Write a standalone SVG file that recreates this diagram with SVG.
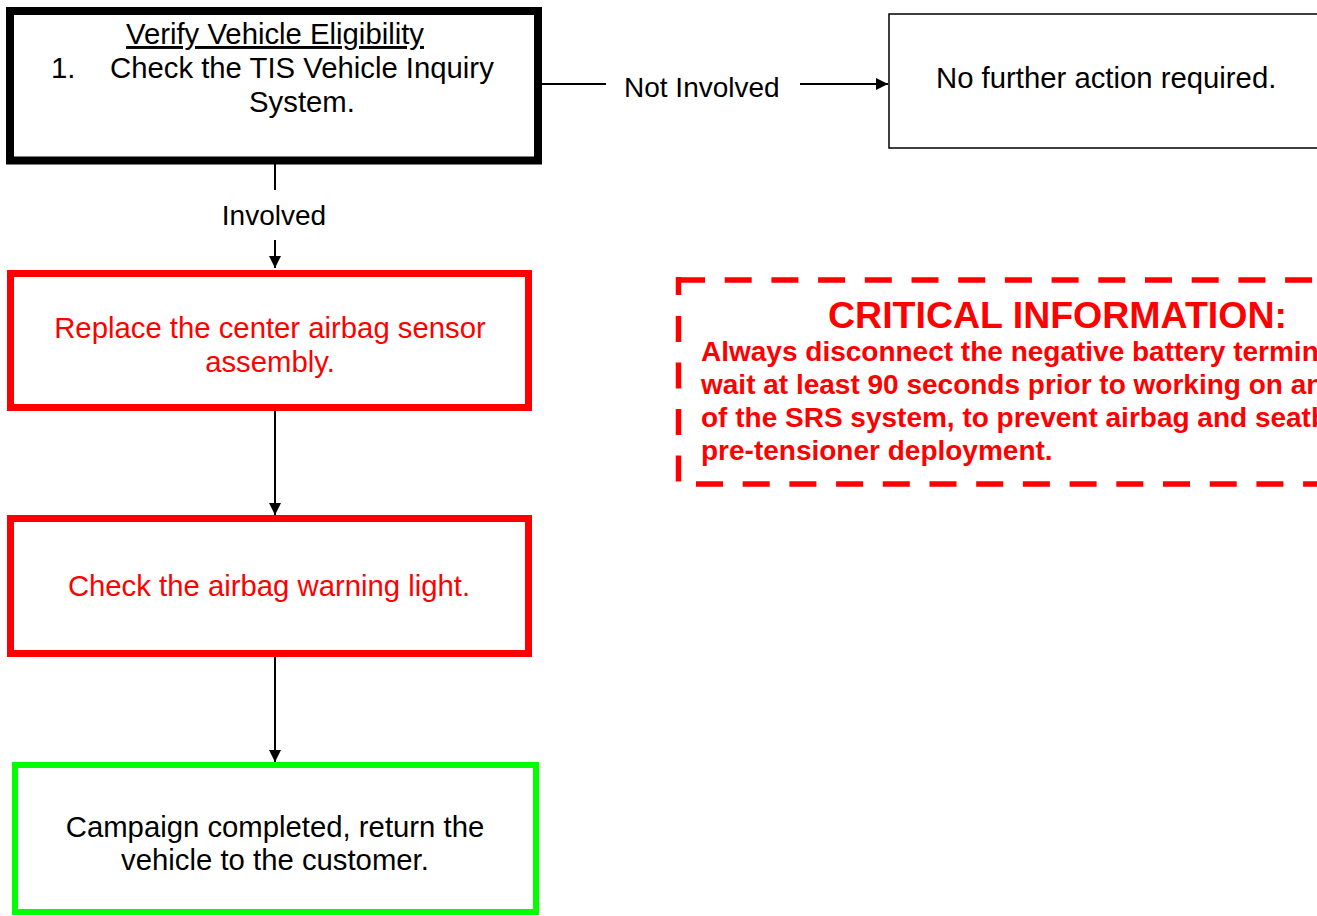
<svg xmlns="http://www.w3.org/2000/svg" width="1317" height="916" viewBox="0 0 1317 916">
<style>
text{font-family:"Liberation Sans",Arial,sans-serif;}
.t{font-size:29.3px;fill:#000;}
.l{font-size:28px;fill:#000;}
.r{font-size:29.3px;fill:#ff0000;}
.c{text-anchor:middle;}
.b{font-size:28px;font-weight:bold;fill:#ff0000;}
.h{font-size:37.5px;font-weight:bold;fill:#ff0000;}
.ln{stroke:#000;stroke-width:2;fill:none;}
.dash{stroke:#ff0000;stroke-width:5.5;fill:none;}
</style>
<defs>
<marker id="ah" markerWidth="14" markerHeight="14" refX="12" refY="6" orient="auto" markerUnits="userSpaceOnUse">
<path d="M0,0 L12,6 L0,12 Z" fill="#000"/>
</marker>
</defs>
<rect width="1317" height="916" fill="#fff"/>
<g id="connectors">
<line class="ln" x1="275" y1="164" x2="275" y2="190"/>
<line class="ln" x1="275" y1="240" x2="275" y2="268" marker-end="url(#ah)"/>
<line class="ln" x1="275" y1="411" x2="275" y2="515" marker-end="url(#ah)"/>
<line class="ln" x1="275" y1="657" x2="275" y2="762" marker-end="url(#ah)"/>
<line class="ln" x1="542" y1="84" x2="606" y2="84"/>
<line class="ln" x1="800" y1="84" x2="888" y2="84" marker-end="url(#ah)"/>
<text class="l c" x="274" y="225">Involved</text>
<text class="l" x="624" y="97">Not Involved</text>
</g>
<g id="verify">
<rect x="10" y="11" width="528" height="149.5" fill="#fff" stroke="#000" stroke-width="8"/>
<text class="t c" x="275" y="44" text-decoration="underline">Verify Vehicle Eligibility</text>
<text class="t" x="51" y="78">1.</text>
<text class="t" x="110" y="78">Check the TIS Vehicle Inquiry</text>
<text class="t c" x="302" y="112">System.</text>
</g>
<g id="no-action">
<rect x="889" y="14" width="440" height="134" fill="#fff" stroke="#000" stroke-width="1.5"/>
<text class="t" x="936" y="88">No further action required.</text>
</g>
<g id="replace">
<rect x="10.5" y="273.5" width="518" height="134" fill="#fff" stroke="#ff0000" stroke-width="7"/>
<text class="r c" x="270" y="338">Replace the center airbag sensor</text>
<text class="r c" x="270" y="372">assembly.</text>
</g>
<g id="check-light">
<rect x="10.5" y="518.5" width="518" height="135" fill="#fff" stroke="#ff0000" stroke-width="7"/>
<text class="r c" x="269" y="596">Check the airbag warning light.</text>
</g>
<g id="complete">
<rect x="15" y="765" width="521" height="147" fill="#fff" stroke="#00ff00" stroke-width="6"/>
<text class="t c" x="275" y="837">Campaign completed, return the</text>
<text class="t c" x="275" y="870">vehicle to the customer.</text>
</g>
<g id="critical">
<line class="dash" x1="678" y1="280" x2="1330" y2="280" stroke-dasharray="27 19.7"/>
<line class="dash" x1="696" y1="484" x2="1330" y2="484" stroke-dasharray="27 19.7"/>
<line class="dash" x1="678.5" y1="277" x2="678.5" y2="484" stroke-dasharray="18 21 26 20.5 26 20.5 26 20.5 26 40"/>
<text class="h" x="828" y="328">CRITICAL INFORMATION:</text>
<text class="b" x="701" y="361">Always disconnect the negative battery termina</text>
<text class="b" x="701" y="394">wait at least 90 seconds prior to working on any</text>
<text class="b" x="701" y="427">of the SRS system, to prevent airbag and seatbe</text>
<text class="b" x="701" y="460">pre-tensioner deployment.</text>
</g>
</svg>
